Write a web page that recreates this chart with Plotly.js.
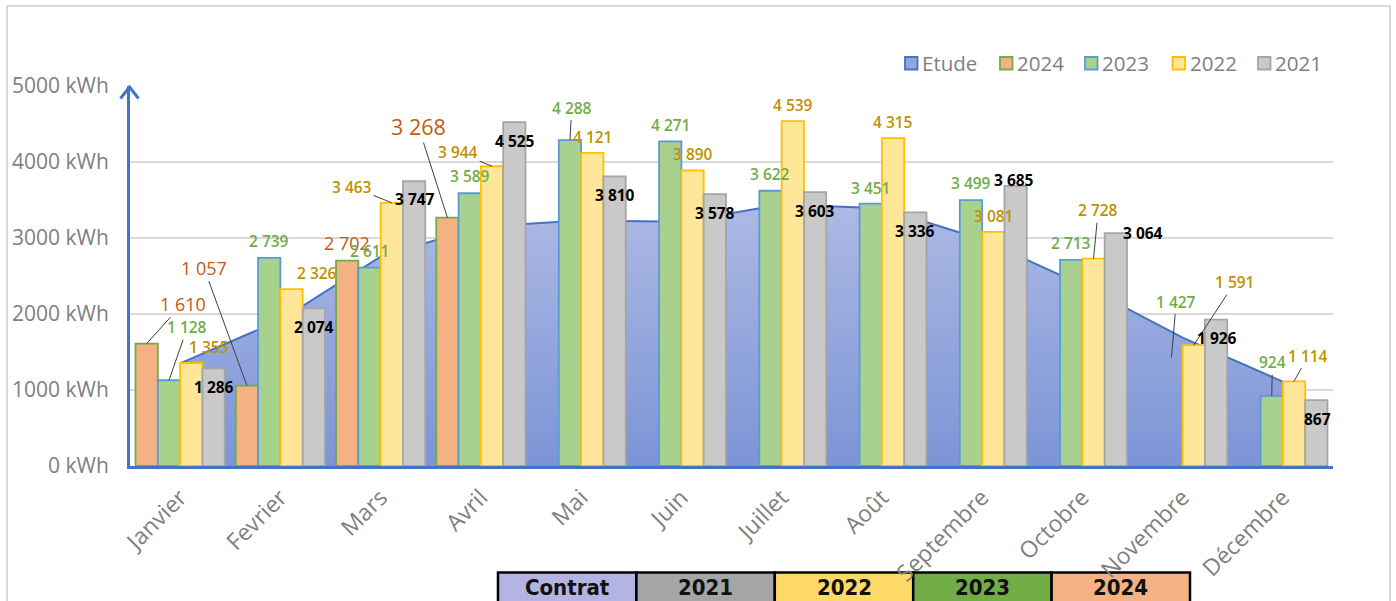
<!DOCTYPE html>
<html><head><meta charset="utf-8">
<script src="https://cdn.plot.ly/plotly-3.0.1.min.js"></script>
<style>html,body{margin:0;padding:0;background:#fff}#chart{width:1396px;height:601px}</style>
</head><body><div id="chart"></div>
<script>
// ---------- DATA ----------
const months = ['Janvier','Fevrier','Mars','Avril','Mai','Juin','Juillet','Août','Septembre','Octobre','Novembre','Décembre'];
const etude = [1350,1920,2755,3150,3230,3215,3440,3390,2980,2380,1690,1110];
const y2024 = [1610,1057,2702,3268,null,null,null,null,null,null,null,null];
const y2023 = [1128,2739,2611,3589,4288,4271,3622,3451,3499,2713,1427,924];
const y2022 = [1355,2326,3463,3944,4121,3890,4539,4315,3081,2728,1591,1114];
const y2021 = [1286,2074,3747,4525,3810,3578,3603,3336,3685,3064,1926,867];
const seriesNames = ['Etude','2024','2023','2022','2021'];
const tableLabels = ['Contrat','2021','2022','2023','2024'];
const yTicks = [0,1000,2000,3000,4000,5000];
const hiddenBars2023 = ['Novembre'];

// ---------- STYLE ----------
const FONT = 'Open Sans, DejaVu Sans, sans-serif';
const GRAY = '#7F7F7F';
const AXIS_BLUE = '#4472C4';
const barStyle = {
  '2024': {fill:'#F4B183', line:'#70AD47'},
  '2023': {fill:'#A9D18E', line:'#5B9BD5'},
  '2022': {fill:'#FFE699', line:'#FFC000'},
  '2021': {fill:'#C9C9C9', line:'#A5A5A5'}
};
const etudeStyle = {fill:'#93A6DC', line:AXIS_BLUE};
const labelStyle = {
  '2024': {color:'#C55A11', size:18, weight:400},
  '2023': {color:'#70AD47', size:15.5, weight:600},
  '2022': {color:'#BF9000', size:15.5, weight:600},
  '2021': {color:'#000000', size:15.5, weight:700}
};
// label placement relative to bar top, in px: [dx, dy, leaderLine, sizeOverride]
const labelPos = {
  '2024': [[36,-40,1],[-43,-118,1],[0,-18,0],[-29,-91,1,21.5]],
  '2023': [[18.5,-53,1],[0,-17,0],[0,-16.6,0],[0,-17,0],[1.7,-32.5,1],[0,-16.5,0],[0,-16.3,0],[0,-16,0],[0,-16.6,0],[0,-17,0],[4.8,-56,1],[0.7,-33.5,1]],
  '2022': [[18.2,-16.3,0],[25,-16,0],[-39.8,-16.3,1],[-33.8,-14,1],[0,-16,0],[0,-16,0],[0,-16.4,0],[0,-15.6,0],[0,-15.7,0],[4.7,-48.4,1],[41.2,-62.9,1],[14.2,-25.6,1]],
  '2021': [[0,19,0],[0,18.7,0],[0.9,18.2,0],[0.6,18.5,0],[0,18.3,0],[0,18.7,0],[0,18.6,0],[0,18.4,0],[-1.6,-5.9,0],[27.4,0,0],[1.2,18.3,0],[1.1,19,0]]
};
const tableColors = ['#B4B4E4','#A5A5A5','#FFD966','#70AD47','#F4B183'];

// ---------- GEOMETRY ----------
const W = 1396, H = 601;
const M = {l:130, r:63, t:86, b:135};
const PW = W - M.l - M.r, PH = H - M.t - M.b;
const px = x => (x - M.l) / PW;
const py = y => (H - M.b - y) / PH;
const BARGAP = 0.11;
const slotW = (1 - BARGAP) / 4;
const slotX = (i, s) => i + (-1.5 + s) * slotW;
const fmt = v => String(v).replace(/\B(?=(\d{3})+(?!\d))/g, ' ');

// ---------- TRACES ----------
const seriesData = {'2024': y2024, '2023': y2023, '2022': y2022, '2021': y2021};
const barOrder = ['2024','2023','2022','2021'];
const traces = [{
  type:'scatter', mode:'lines', name:seriesNames[0], x:months, y:etude,
  xaxis:'x', yaxis:'y',
  line:{color:etudeStyle.line, width:2},
  fill:'tozeroy',
  fillgradient:{type:'vertical', start:0, stop:3500, colorscale:[[0,'#7C94D6'],[1,'#ADBAE4']]},
  hoverinfo:'skip', showlegend:false
}];
barOrder.forEach(k => {
  const hide = months.map(m => k === '2023' && hiddenBars2023.includes(m));
  traces.push({
    type:'bar', name:k, x:months, y:seriesData[k], xaxis:'x2', yaxis:'y2',
    marker:{
      color: hide.map(h => h ? 'rgba(0,0,0,0)' : barStyle[k].fill),
      line:{color: hide.map(h => h ? 'rgba(0,0,0,0)' : barStyle[k].line), width:1.8}
    },
    hoverinfo:'skip', showlegend:false
  });
});

// ---------- ANNOTATIONS ----------
const annotations = [];
barOrder.forEach((k, s) => {
  seriesData[k].forEach((v, i) => {
    if (v === null || v === undefined) return;
    const p = labelPos[k][i];
    const st = labelStyle[k];
    const a = {
      xref:'x2', yref:'y2', x:slotX(i, s), y:v, text:fmt(v),
      font:{family:FONT, size:p[3] || st.size, color:st.color, weight:st.weight},
      xanchor:'center', yanchor:'middle'
    };
    if (p[2]) {
      Object.assign(a, {showarrow:true, ax:p[0], ay:p[1], axref:'pixel', ayref:'pixel',
        arrowhead:0, arrowwidth:1, arrowcolor:'#404040', standoff:0});
    } else {
      Object.assign(a, {showarrow:false, xshift:p[0], yshift:-p[1]});
    }
    annotations.push(a);
  });
});

// custom legend
const legendSwatchX = [905, 1000, 1085, 1172.5, 1258];
const legendFill = [etudeStyle, barStyle['2024'], barStyle['2023'], barStyle['2022'], barStyle['2021']];
const shapes = [];
seriesNames.forEach((n, j) => {
  const x0 = legendSwatchX[j];
  shapes.push({type:'rect', xref:'paper', yref:'paper', x0:px(x0), x1:px(x0+12.5), y0:py(69.5), y1:py(57),
    fillcolor:legendFill[j].fill, line:{color:legendFill[j].line, width:1.8}});
  annotations.push({xref:'paper', yref:'paper', x:px(x0+15), y:py(63), text:n, showarrow:false,
    xanchor:'left', yanchor:'middle', font:{family:FONT, size:20.5, color:GRAY}});
});

// y-axis arrow head
shapes.push({type:'path', xref:'paper', yref:'paper', layer:'above',
  path:`M ${px(120.5)},${py(98.5)} L ${px(129.5)},${py(87)} L ${px(138.5)},${py(98.5)}`,
  line:{color:AXIS_BLUE, width:3}});

// outer frame
shapes.push({type:'rect', xref:'paper', yref:'paper', x0:px(7), x1:px(1390), y0:py(640), y1:py(6),
  line:{color:'#D9D9D9', width:2}, fillcolor:'rgba(0,0,0,0)', layer:'below'});

// bottom table (below the month labels)
const cellX0 = 498, cellW = 138.4;
tableLabels.forEach((t, k) => {
  const x0 = cellX0 + k*cellW;
  shapes.push({type:'rect', xref:'paper', yref:'paper', x0:px(x0), x1:px(x0+cellW), y0:py(640), y1:py(572.5),
    fillcolor:tableColors[k], line:{color:'#000', width:2.5}, layer:'below'});
  annotations.push({xref:'paper', yref:'paper', x:px(x0+cellW/2), y:py(587.5), text:t, showarrow:false,
    xanchor:'center', yanchor:'middle',
    font:{family:'DejaVu Sans Condensed, Liberation Sans Narrow, sans-serif', size:22, color:'#111', weight:700}});
});

const layout = {
  width:W, height:H, margin:M, paper_bgcolor:'#fff', plot_bgcolor:'#fff',
  showlegend:false, barmode:'group', bargap:BARGAP, bargroupgap:0,
  xaxis:{type:'category', categoryorder:'array', categoryarray:months, range:[-0.5,11.5],
    showline:true, linecolor:AXIS_BLUE, linewidth:3, ticks:'', tickangle:-45, showgrid:false, zeroline:false,
    tickfont:{family:FONT, size:23, color:GRAY, weight:500}, ticklabelstandoff:6, fixedrange:true},
  yaxis:{range:[0,5000], tickvals:yTicks, ticktext:yTicks.map(v => v + ' kWh'),
    showline:true, linecolor:AXIS_BLUE, linewidth:3, ticks:'', gridcolor:'#D9D9D9', gridwidth:1.5, zeroline:false,
    tickfont:{family:FONT, size:21, color:GRAY}, ticklabelstandoff:14, fixedrange:true},
  xaxis2:{type:'category', categoryorder:'array', categoryarray:months, range:[-0.5,11.5],
    overlaying:'x', anchor:'y2', visible:false, fixedrange:true},
  yaxis2:{range:[0,5000], overlaying:'y', anchor:'x2', visible:false, fixedrange:true},
  annotations, shapes
};
Plotly.newPlot('chart', traces, layout, {displayModeBar:false, staticPlot:true});
</script></body></html>
